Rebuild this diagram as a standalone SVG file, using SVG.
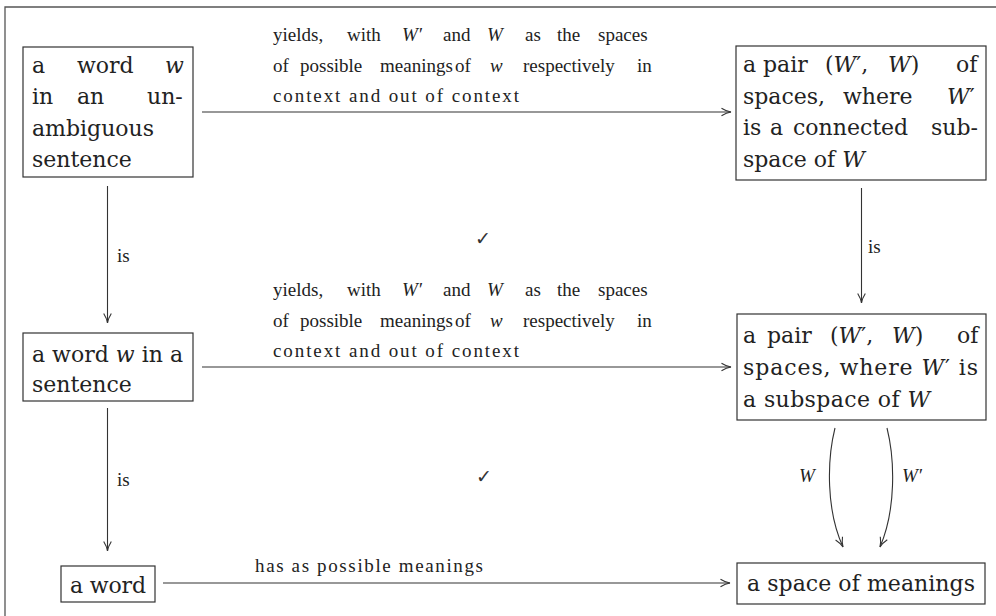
<svg xmlns="http://www.w3.org/2000/svg" width="996" height="616" viewBox="0 0 996 616">
  <style>
    .frame { stroke: #555; stroke-width: 1.3; fill: none; }
    .box { fill: #fff; stroke: #333; stroke-width: 1.2; }
    .node { font-size: 22px; fill: #222; }
    .lab { font-size: 19px; fill: #222; }
    .m { font-style: italic; }
    .edge { stroke: #333; stroke-width: 1.1; fill: none; marker-end: url(#to); }
    .tick { font-size: 19px; fill: #333; text-anchor: middle; }
  </style>
  <defs>
    <marker id="to" viewBox="-11 -5 12 10" markerWidth="12" markerHeight="10" refX="0" refY="0" orient="auto" markerUnits="userSpaceOnUse">
      <path d="M-9.5,-3.8 C-6,-1.6 -2,-0.3 0,0 C-2,0.3 -6,1.6 -9.5,3.8" stroke="#333" stroke-width="1.1" fill="none"/>
    </marker>
  </defs>

  <rect width="996" height="616" fill="#fff"/>
  <!-- page frame (top and left rules) -->
  <path class="frame" d="M5,616 V7 H996"/>

  <!-- connectors -->
  <g id="connectors">
    <path class="edge" d="M202,112 H731"/>
    <path class="edge" d="M202,367 H731"/>
    <path class="edge" d="M163,583 H730"/>
    <path class="edge" d="M107.5,186 V323"/>
    <path class="edge" d="M107.5,408 V551"/>
    <path class="edge" d="M861.5,188 V303"/>
    <path class="edge" d="M835,428 C827,460 826,510 843,547"/>
    <path class="edge" d="M887,428 C895,460 896,510 880,547"/>
  </g>

  <!-- edge labels -->
  <g id="labels" style="font-family: 'Liberation Serif'">
    <text class="lab" y="41"><tspan x="273">yields,</tspan><tspan x="347">with</tspan><tspan x="402" class="m">W′</tspan><tspan x="443">and</tspan><tspan x="487" class="m">W</tspan><tspan x="525">as</tspan><tspan x="557">the</tspan><tspan x="598">spaces</tspan></text>
    <text class="lab" y="71.5"><tspan x="273">of</tspan><tspan x="300">possible</tspan><tspan x="380">meanings</tspan><tspan x="455">of</tspan><tspan x="490" class="m">w</tspan><tspan x="523">respectively</tspan><tspan x="637">in</tspan></text>
    <text class="lab" x="273" y="102" textLength="246" lengthAdjust="spacing">context and out of context</text>

    <text class="lab" y="296"><tspan x="273">yields,</tspan><tspan x="347">with</tspan><tspan x="402" class="m">W′</tspan><tspan x="443">and</tspan><tspan x="487" class="m">W</tspan><tspan x="525">as</tspan><tspan x="557">the</tspan><tspan x="598">spaces</tspan></text>
    <text class="lab" y="326.5"><tspan x="273">of</tspan><tspan x="300">possible</tspan><tspan x="380">meanings</tspan><tspan x="455">of</tspan><tspan x="490" class="m">w</tspan><tspan x="523">respectively</tspan><tspan x="637">in</tspan></text>
    <text class="lab" x="273" y="357" textLength="246" lengthAdjust="spacing">context and out of context</text>

    <text class="lab" x="255" y="572" textLength="228" lengthAdjust="spacing">has as possible meanings</text>

    <text class="lab" x="117" y="262">is</text>
    <text class="lab" x="117" y="486">is</text>
    <text class="lab" x="868" y="253">is</text>
    <text class="lab m" x="799" y="482" font-size="22">W</text>
    <text class="lab m" x="902" y="482" font-size="22">W′</text>
  </g>
  <g id="ticks" style="font-family: 'DejaVu Sans'">
    <text class="tick" x="483" y="245">✓</text>
    <text class="tick" x="484" y="483">✓</text>
  </g>

  <!-- nodes -->
  <g id="n-word-unambiguous" style="font-family: 'DejaVu Serif'">
    <rect class="box" x="23" y="47" width="170" height="130"/>
    <text class="node" y="72.5"><tspan x="32">a</tspan><tspan x="77">word</tspan><tspan x="165" class="m">w</tspan></text>
    <text class="node" y="104"><tspan x="32">in</tspan><tspan x="77">an</tspan><tspan x="147">un-</tspan></text>
    <text class="node" x="32" y="135.5">ambiguous</text>
    <text class="node" x="32" y="167">sentence</text>
  </g>

  <g id="n-pair-connected" style="font-family: 'DejaVu Serif'">
    <rect class="box" x="736" y="46" width="250" height="134"/>
    <text class="node" y="72"><tspan x="743">a</tspan><tspan x="763">pair</tspan><tspan x="825">(<tspan class="m">W</tspan>′,</tspan><tspan x="888"><tspan class="m">W</tspan>)</tspan><tspan x="956">of</tspan></text>
    <text class="node" y="103.5"><tspan x="743">spaces,</tspan><tspan x="843">where</tspan><tspan x="947"><tspan class="m">W</tspan>′</tspan></text>
    <text class="node" y="135"><tspan x="743">is</tspan><tspan x="770">a</tspan><tspan x="793">connected</tspan><tspan x="931">sub-</tspan></text>
    <text class="node" x="743" y="166.5">space of <tspan class="m">W</tspan></text>
  </g>

  <g id="n-word-sentence" style="font-family: 'DejaVu Serif'">
    <rect class="box" x="23" y="333" width="170" height="68"/>
    <text class="node" x="32" y="362" textLength="151" lengthAdjust="spacing">a word <tspan class="m">w</tspan> in a</text>
    <text class="node" x="32" y="392">sentence</text>
  </g>

  <g id="n-pair-subspace" style="font-family: 'DejaVu Serif'">
    <rect class="box" x="737" y="314" width="249" height="106"/>
    <text class="node" y="343"><tspan x="743">a</tspan><tspan x="767">pair</tspan><tspan x="830">(<tspan class="m">W</tspan>′,</tspan><tspan x="892"><tspan class="m">W</tspan>)</tspan><tspan x="957">of</tspan></text>
    <text class="node" x="743" y="375" textLength="235" lengthAdjust="spacing">spaces, where <tspan class="m">W</tspan>′ is</text>
    <text class="node" x="743" y="406.5" textLength="187" lengthAdjust="spacing">a subspace of <tspan class="m">W</tspan></text>
  </g>

  <g id="n-word" style="font-family: 'DejaVu Serif'">
    <rect class="box" x="61" y="566" width="94" height="36"/>
    <text class="node" x="70" y="593" textLength="76" lengthAdjust="spacing">a word</text>
  </g>

  <g id="n-space-of-meanings" style="font-family: 'DejaVu Serif'">
    <rect class="box" x="737" y="563" width="248" height="41"/>
    <text class="node" x="747" y="591" textLength="228" lengthAdjust="spacing">a space of meanings</text>
  </g>
</svg>
